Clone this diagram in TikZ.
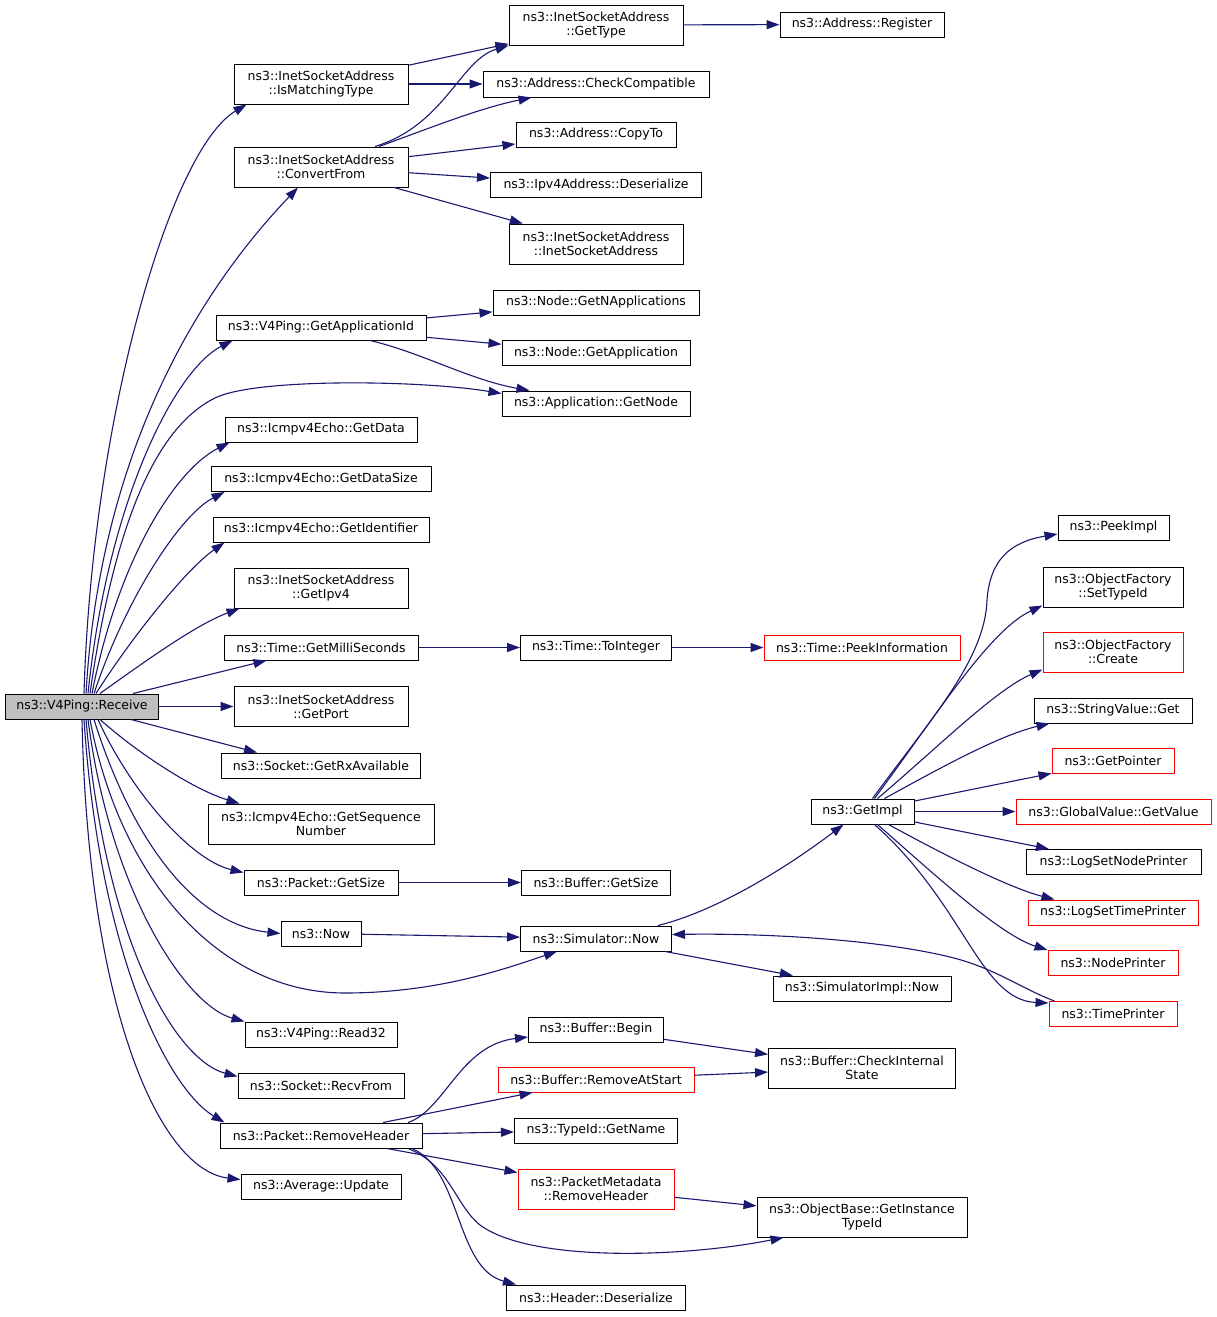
\documentclass[tikz,border=0pt]{standalone}
\usepackage{fontspec}
\setmainfont{DejaVu Sans}
\usepackage{xcolor}
\usepackage{tikz}
\usetikzlibrary{arrows.meta}
\definecolor{edgeblue}{HTML}{191970}
\definecolor{rootgray}{HTML}{BFBFBF}
\definecolor{docred}{HTML}{FF0000}
\newcommand{\graphfont}{\fontsize{12.5}{14}\selectfont}

\begin{document}
\begin{tikzpicture}[
  x=1pt, y=-1pt,
  fn/.style={draw=black, line width=1pt, inner xsep=3pt, inner ysep=2pt,
    minimum height=25pt, align=center, font=\graphfont},
  fnroot/.style={fn, fill=rootgray},
  fnred/.style={fn, draw=docred},
  call/.style={draw=edgeblue, line width=1.1pt, -{Triangle[length=13pt,width=9pt]}},
]
\path[use as bounding box, fill=white] (0,0) rectangle (1216,1317);

\node[fnroot, minimum width=153pt] (recv) at (82,706.5) {ns3::V4Ping::Receive};

\node[fn, minimum width=174pt, minimum height=40pt] (imt) at (321,84) {ns3::InetSocketAddress\\::IsMatchingType};
\node[fn, minimum width=174pt, minimum height=40pt] (cf) at (321,167) {ns3::InetSocketAddress\\::ConvertFrom};
\node[fn, minimum width=210pt] (gai) at (321,327.5) {ns3::V4Ping::GetApplicationId};
\node[fn, minimum width=192pt] (gd) at (321,429.5) {ns3::Icmpv4Echo::GetData};
\node[fn, minimum width=220pt] (gds) at (321,479) {ns3::Icmpv4Echo::GetDataSize};
\node[fn, minimum width=216pt] (gid) at (321,529.5) {ns3::Icmpv4Echo::GetIdentifier};
\node[fn, minimum width=174pt, minimum height=40pt] (gip) at (321,588) {ns3::InetSocketAddress\\::GetIpv4};
\node[fn, minimum width=194pt] (gms) at (321,647.5) {ns3::Time::GetMilliSeconds};
\node[fn, minimum width=174pt, minimum height=40pt] (gp) at (321,706.5) {ns3::InetSocketAddress\\::GetPort};
\node[fn, minimum width=199pt] (grx) at (321,765.5) {ns3::Socket::GetRxAvailable};
\node[fn, minimum width=226pt, minimum height=40pt] (gsn) at (321,824) {ns3::Icmpv4Echo::GetSequence\\Number};
\node[fn, minimum width=154pt] (pgs) at (321,882.5) {ns3::Packet::GetSize};
\node[fn, minimum width=80pt] (now) at (321,933.5) {ns3::Now};
\node[fn, minimum width=152pt] (r32) at (321,1034.5) {ns3::V4Ping::Read32};
\node[fn, minimum width=166pt] (rcv) at (321,1085.5) {ns3::Socket::RecvFrom};
\node[fn, minimum width=202pt] (rh) at (321,1135.5) {ns3::Packet::RemoveHeader};
\node[fn, minimum width=160pt] (upd) at (321,1186.5) {ns3::Average::Update};

\node[fn, minimum width=174pt, minimum height=40pt] (gt) at (596,25) {ns3::InetSocketAddress\\::GetType};
\node[fn, minimum width=226pt, minimum height=26pt] (cc) at (596,84) {ns3::Address::CheckCompatible};
\node[fn, minimum width=160pt] (ct) at (596,134.5) {ns3::Address::CopyTo};
\node[fn, minimum width=211pt] (ipd) at (596,185) {ns3::Ipv4Address::Deserialize};
\node[fn, minimum width=174pt, minimum height=40pt] (isa) at (596,244) {ns3::InetSocketAddress\\::InetSocketAddress};
\node[fn, minimum width=206pt] (gna) at (596,302.5) {ns3::Node::GetNApplications};
\node[fn, minimum width=188pt] (gapp) at (596,353) {ns3::Node::GetApplication};
\node[fn, minimum width=188pt] (gnode) at (596,403.5) {ns3::Application::GetNode};
\node[fn, minimum width=151pt] (toi) at (596,647.5) {ns3::Time::ToInteger};
\node[fn, minimum width=149pt] (bgs) at (596,882.5) {ns3::Buffer::GetSize};
\node[fn, minimum width=151pt] (sn) at (596,938.5) {ns3::Simulator::Now};
\node[fn, minimum width=135pt] (bb) at (596,1029.5) {ns3::Buffer::Begin};
\node[fnred, minimum width=196pt] (bra) at (596,1079.5) {ns3::Buffer::RemoveAtStart};
\node[fn, minimum width=163pt] (tgn) at (596,1130.5) {ns3::TypeId::GetName};
\node[fnred, minimum width=156pt, minimum height=40pt] (pmr) at (596,1189) {ns3::PacketMetadata\\::RemoveHeader};
\node[fn, minimum width=179pt] (hd) at (596,1297.5) {ns3::Header::Deserialize};

\node[fn, minimum width=164pt] (reg) at (862,24.5) {ns3::Address::Register};
\node[fnred, minimum width=196pt] (pi) at (862,647.5) {ns3::Time::PeekInformation};
\node[fn, minimum width=103pt] (gimpl) at (862.5,811.5) {ns3::GetImpl};
\node[fn, minimum width=178pt] (sin) at (862,988.5) {ns3::SimulatorImpl::Now};
\node[fn, minimum width=187pt, minimum height=40pt] (cis) at (862,1068) {ns3::Buffer::CheckInternal\\State};
\node[fn, minimum width=210pt, minimum height=40pt] (gitid) at (862,1217) {ns3::ObjectBase::GetInstance\\TypeId};

\node[fn, minimum width=111pt] (pimpl) at (1113.5,527.5) {ns3::PeekImpl};
\node[fn, minimum width=140pt, minimum height=40pt] (stid) at (1113,587) {ns3::ObjectFactory\\::SetTypeId};
\node[fnred, minimum width=140pt, minimum height=40pt] (ofc) at (1113,652) {ns3::ObjectFactory\\::Create};
\node[fn, minimum width=158pt] (svg) at (1113,710.5) {ns3::StringValue::Get};
\node[fnred, minimum width=122pt] (gptr) at (1113,761) {ns3::GetPointer};
\node[fnred, minimum width=195pt] (ggv) at (1113.5,811.5) {ns3::GlobalValue::GetValue};
\node[fn, minimum width=175pt] (lnp) at (1113.5,862) {ns3::LogSetNodePrinter};
\node[fnred, minimum width=170pt] (ltp) at (1113,912.5) {ns3::LogSetTimePrinter};
\node[fnred, minimum width=130pt] (np) at (1113,963) {ns3::NodePrinter};
\node[fnred, minimum width=128pt] (tp) at (1113,1014) {ns3::TimePrinter};

\draw[call] ([xshift=2pt]recv.north) .. controls (92,420) and (170,150) .. ([xshift=13pt]imt.south west);
\draw[call] ([xshift=4pt]recv.north) .. controls (100,450) and (200,290) .. ([xshift=-23pt]cf.south);
\draw[call] ([xshift=6pt]recv.north) .. controls (108,500) and (175,370) .. ([xshift=17pt]gai.south west);
\draw[call] ([xshift=8pt]recv.north) .. controls (112,540) and (150,430) .. (215,398) .. controls (255,378) and (420,380) .. ([yshift=-3pt]gnode.north west);
\draw[call] ([xshift=10pt]recv.north) .. controls (118,560) and (175,470) .. ([xshift=5pt]gd.south west);
\draw[call] ([xshift=12pt]recv.north) .. controls (125,600) and (180,515) .. ([xshift=14pt]gds.south west);
\draw[call] ([xshift=14pt]recv.north) .. controls (130,640) and (185,570) .. ([xshift=12pt]gid.south west);
\draw[call] ([xshift=18pt]recv.north) .. controls (140,665) and (195,625) .. ([xshift=6pt]gip.south west);
\draw[call] ([xshift=51pt]recv.north) -- ([xshift=43pt]gms.south west);
\draw[call] (recv) -- (gp);
\draw[call] ([xshift=49pt]recv.south) -- ([xshift=36pt]grx.north west);
\draw[call] ([xshift=18pt]recv.south) .. controls (140,755) and (195,790) .. ([xshift=32pt]gsn.north west);
\draw[call] ([xshift=16pt]recv.south) .. controls (130,790) and (190,860) .. ([yshift=-3pt]pgs.north west);
\draw[call] ([xshift=12pt]recv.south) .. controls (135,850) and (200,925) .. (now.west);
\draw[call] ([xshift=8pt]recv.south) .. controls (120,880) and (220,993) .. (345,993) .. controls (440,993) and (510,967) .. ([xshift=37pt]sn.south west);
\draw[call] ([xshift=6pt]recv.south) .. controls (110,890) and (185,1005) .. (r32.north west);
\draw[call] ([xshift=4pt]recv.south) .. controls (105,940) and (175,1060) .. ([yshift=-4pt]rcv.north west);
\draw[call] ([xshift=2pt]recv.south) .. controls (100,960) and (170,1090) .. ([xshift=5pt]rh.north west);
\draw[call] (recv.south) .. controls (88,1010) and (160,1170) .. ([yshift=-6pt]upd.north west);

\draw[call] (imt) -- (gt);
\draw[call] (imt) -- (cc);
\draw[call] ([xshift=54pt]cf.north) .. controls (445,125) and (460,60) .. (gt.south west);
\draw[call] ([xshift=58pt]cf.north) .. controls (430,128) and (480,108) .. ([xshift=49pt]cc.south west);
\draw[call] (cf) -- (ct);
\draw[call] (cf) -- (ipd);
\draw[call] (cf) -- (isa);
\draw[call] (gt) -- (reg);
\draw[call] (gai) -- (gna);
\draw[call] (gai) -- (gapp);
\draw[call] ([xshift=49pt]gai.south) .. controls (420,352) and (470,380) .. ([xshift=28pt]gnode.north west);
\draw[call] (gms) -- (toi);
\draw[call] (toi) -- (pi);
\draw[call] (pgs) -- (bgs);
\draw[call] (now) -- (sn);
\draw[call] ([xshift=62pt]sn.north) .. controls (720,910) and (790,865) .. ([xshift=33pt]gimpl.south west);
\draw[call] (sn) -- (sin);

\draw[call] ([xshift=10pt]gimpl.north) .. controls (930,720) and (985,660) .. (987,600) .. controls (990,560) and (1010,542) .. ([yshift=-6.5pt]pimpl.west);
\draw[call] ([xshift=12pt]gimpl.north) .. controls (940,710) and (990,630) .. ([yshift=2pt]stid.south west);
\draw[call] ([xshift=15pt]gimpl.north) .. controls (935,750) and (995,690) .. ([yshift=3pt]ofc.south west);
\draw[call] ([xshift=22pt]gimpl.north) .. controls (940,768) and (1000,735) .. ([xshift=16pt]svg.south west);
\draw[call] (gimpl) -- (gptr);
\draw[call] (gimpl) -- (ggv);
\draw[call] (gimpl) -- (lnp);
\draw[call] ([xshift=26pt]gimpl.south) .. controls (950,858) and (1010,888) .. ([xshift=27pt]ltp.north west);
\draw[call] ([xshift=15pt]gimpl.south) .. controls (935,875) and (1000,935) .. (np.north west);
\draw[call] ([xshift=12pt]gimpl.south) .. controls (965,905) and (980,1000) .. ([yshift=-2pt]tp.north west);
\draw[call] ([xshift=6pt]tp.north west) .. controls (1020,988) and (995,968) .. (950,957) .. controls (880,940) and (770,933) .. ([yshift=4pt]sn.east);

\draw[call] ([xshift=87pt]rh.north) .. controls (445,1110) and (460,1045) .. ([yshift=-7.5pt]bb.west);
\draw[call] ([xshift=62pt]rh.north) -- ([xshift=35pt]bra.south west);
\draw[call] (rh) -- (tgn);
\draw[call] ([xshift=66pt]rh.south) -- ([yshift=-4pt]pmr.north west);
\draw[call] ([xshift=87pt]rh.south) .. controls (450,1165) and (455,1205) .. (480,1225) .. controls (530,1262) and (680,1258) .. ([xshift=27pt]gitid.south west);
\draw[call] ([xshift=91pt]rh.south) .. controls (462,1170) and (455,1268) .. ([xshift=10pt]hd.north west);
\draw[call] (bb) -- (cis);
\draw[call] (bra) -- (cis);
\draw[call] (pmr) -- (gitid);
\end{tikzpicture}
\end{document}
